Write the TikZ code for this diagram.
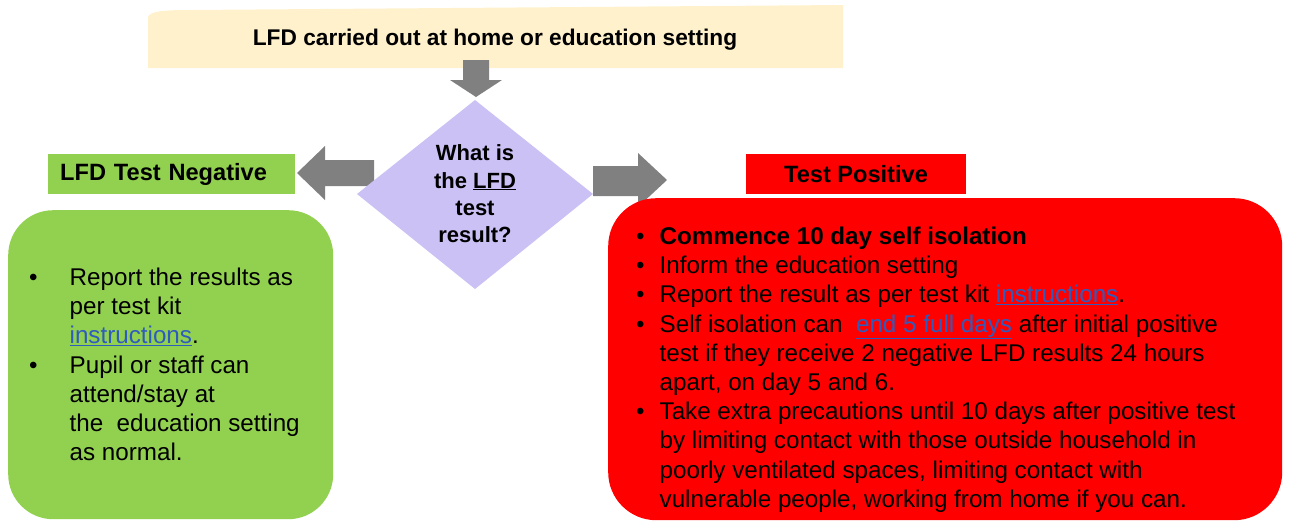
\documentclass[tikz,border=0pt]{standalone}
\usepackage{fontspec}
\setmainfont{Liberation Sans}
\definecolor{bannerfill}{HTML}{FFF1CC}
\definecolor{arrowgrey}{HTML}{808080}
\definecolor{qfill}{HTML}{CCC1F4}
\definecolor{negfill}{HTML}{92D050}
\definecolor{posfill}{HTML}{FF0000}
\definecolor{linkblue}{HTML}{2E5CBE}
\newcommand\weblink[1]{\textcolor{linkblue}{\underline{#1}}}
\tikzset{
  blockarrow/.style={fill=arrowgrey, draw=none},
  body/.style={font=\fontsize{24.2}{29.2}\selectfont, inner sep=0pt},
  label/.style={font=\bfseries\fontsize{23.6}{28}\selectfont, inner sep=0pt, minimum height=40pt},
}
\begin{document}
\begin{tikzpicture}[x=1pt,y=-1pt]
\useasboundingbox (0,0) rectangle (1291,520);

% header banner with a softly curved top edge
\path[fill=bannerfill] (148,68) -- (148,17)
  .. controls (150,11) and (165,10) .. (190,10) -- (843,5) -- (843,68) -- cycle;
\node (top) [anchor=base, font=\bfseries\fontsize{22.7}{27}\selectfont] at (495,45)
  {LFD carried out at home or education setting};

% block arrows
\path[blockarrow] (463,60) -- (489,60) -- (489,80) -- (502,80) -- (476,97)
  -- (450,80) -- (463,80) -- cycle;
\path[blockarrow] (297,173) -- (325,146) -- (325,160) -- (374,160) -- (374,186)
  -- (325,186) -- (325,200) -- cycle;
\path[blockarrow] (593,166) -- (638,166) -- (638,153) -- (667,180) -- (638,207)
  -- (638,196) -- (593,196) -- cycle;

% decision
\path[fill=qfill] (475,100) -- (593,194) -- (475,289) -- (357,194) -- cycle;
\node (q) [align=center, font=\bfseries\fontsize{22}{27.4}\selectfont, inner sep=0pt]
  at (475,194) {What is\\the \underline{LFD}\\test\\result?};

% outcome labels
\node (neg) [label, fill=negfill, anchor=west, minimum width=247pt,
  text width=223pt, align=left] at (48,174) {LFD Test Negative};
\node (pos) [label, fill=posfill, minimum width=220pt] at (856,174) {Test Positive};

% outcome panels
\node (negbox) [fill=negfill, rounded corners=45pt, anchor=north west, inner sep=0pt,
  minimum width=325pt, minimum height=309pt] at (8,210) {};
\node (posbox) [fill=posfill, rounded corners=48pt, anchor=north west, inner sep=0pt,
  minimum width=674pt, minimum height=322pt] at (608,198) {};

\node (negtext) [body, anchor=base west] at (29,285.5) {%
\begin{tabular}[t]{@{}l@{\hspace{32pt}}l@{}}
• & Report the results as\\
  & per test kit\\
  & \weblink{instructions}.\\
• & Pupil or staff can\\
  & attend/stay at\\
  & the\ \ education setting\\
  & as normal.
\end{tabular}};

\node (postext) [body, anchor=base west] at (636,244.5) {%
\begin{tabular}[t]{@{}l@{\hspace{15pt}}l@{}}
• & \textbf{Commence 10 day self isolation}\\
• & Inform the education setting\\
• & Report the result as per test kit \weblink{instructions}.\\
• & Self isolation can\ \ \weblink{end 5 full days} after initial positive\\
  & test if they receive 2 negative LFD results 24 hours\\
  & apart, on day 5 and 6.\\
• & Take extra precautions until 10 days after positive test\\
  & by limiting contact with those outside household in\\
  & poorly ventilated spaces, limiting contact with\\
  & vulnerable people, working from home if you can.
\end{tabular}};
\end{tikzpicture}
\end{document}
